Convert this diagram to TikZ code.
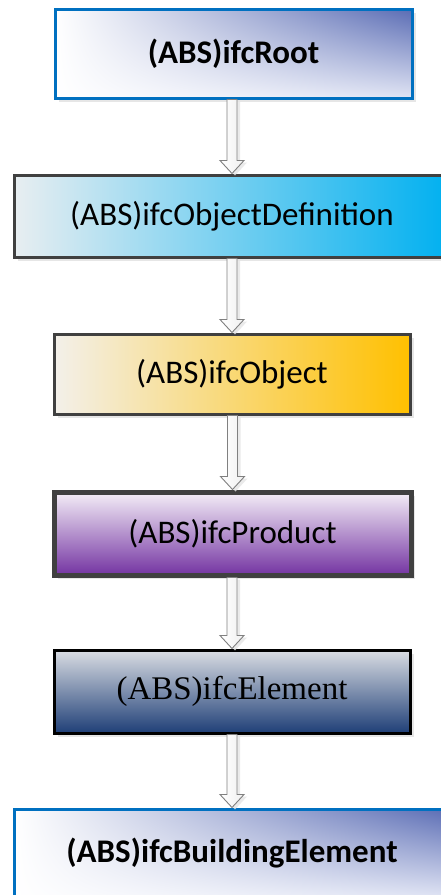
\documentclass[tikz,border=0pt]{standalone}
\usepackage{fontspec}
\newfontfamily\calfont{Carlito}
\newfontfamily\tmsfont{Liberation Serif}
\usetikzlibrary{calc,shadows,shadings}
\definecolor{bordblue}{HTML}{0070C0}
\definecolor{bordgray}{HTML}{404040}
\definecolor{rootblue}{HTML}{5A6CB4}
\definecolor{rootmid}{HTML}{E0E4F4}
\definecolor{cyanend}{HTML}{00B0F0}
\definecolor{cyanstart}{HTML}{E8EEF1}
\definecolor{goldend}{HTML}{FFC000}
\definecolor{goldstart}{HTML}{F3F0EA}
\definecolor{purpend}{HTML}{7434A2}
\definecolor{purpstart}{HTML}{F4EEF7}
\definecolor{navyend}{HTML}{1F3F77}
\definecolor{navystart}{HTML}{DADDE3}
\tikzset{
  box/.style={rectangle, inner sep=0pt, font=\fontsize{33}{40}\selectfont,
    drop shadow={shadow xshift=4pt, shadow yshift=-4pt, fill=black!12, opacity=0.8}},
  bluebox/.style={box, draw=bordblue, line width=3pt,
    upper left=white, lower left=white, upper right=rootblue, lower right=rootmid},
  arr/.style={draw=black!50, line width=0.9pt, left color=white, right color=black!6,
    line join=miter,
    drop shadow={shadow xshift=3pt, shadow yshift=-2pt, fill=black!10, opacity=0.8}}
}
\newcommand\blockarrow[2]{%
  \draw[arr] ($(#2.north |- #1.south)+(-5,0)$) -- ($(#2.north)+(-5,-13)$) -- ($(#2.north)+(-12,-13)$)
    -- (#2.north) -- ($(#2.north)+(12,-13)$) -- ($(#2.north)+(5,-13)$)
    -- ($(#2.north |- #1.south)+(5,0)$) -- cycle;}
\begin{document}
\begin{tikzpicture}[x=1pt,y=-1pt]
\useasboundingbox (0,0) rectangle (441,895);
\fill[white] (0,0) rectangle (441,895);
\node[bluebox, minimum width=357pt, minimum height=89pt] (root) at (233.5,53.5)
  {\calfont\bfseries (ABS)ifcRoot};
\node[box, draw=bordgray, line width=3pt, left color=cyanstart, right color=cyanend,
  minimum width=436pt, minimum height=82pt] (objdef) at (232,216)
  {\calfont (ABS)ifcObjectDefinition};
\node[box, draw=bordgray, line width=3pt, left color=goldstart, right color=goldend,
  minimum width=356pt, minimum height=80pt] (obj) at (232,374)
  {\calfont (ABS)ifcObject};
\node[box, draw=bordgray, line width=5pt, top color=purpstart, bottom color=purpend,
  minimum width=357pt, minimum height=83pt] (prod) at (232.5,533.5)
  {\calfont (ABS)ifcProduct};
\node[box, draw=black, line width=3pt, top color=navystart, bottom color=navyend,
  minimum width=356pt, minimum height=83pt] (elem) at (232,691.5)
  {\tmsfont (ABS)ifcElement};
\node[bluebox, minimum width=436pt, minimum height=88pt] (build) at (232,853)
  {\calfont\bfseries (ABS)ifcBuildingElement};
\blockarrow{root}{objdef}
\blockarrow{objdef}{obj}
\blockarrow{obj}{prod}
\blockarrow{prod}{elem}
\blockarrow{elem}{build}
\end{tikzpicture}
\end{document}
